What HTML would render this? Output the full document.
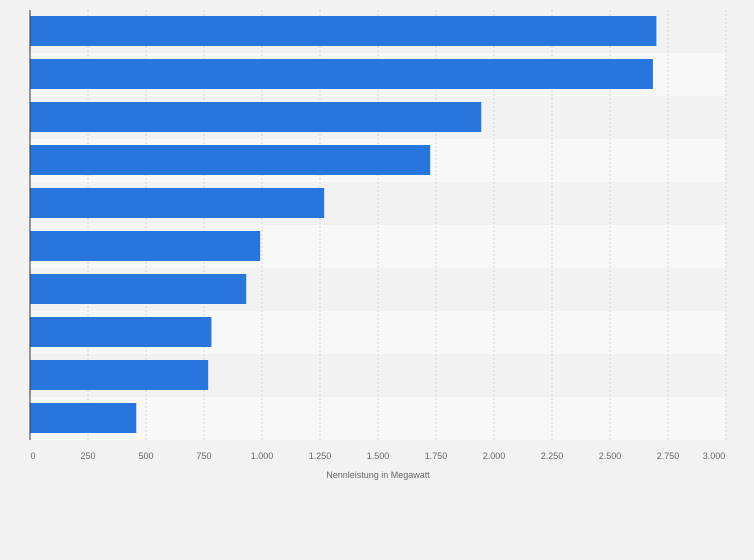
<!DOCTYPE html>
<html><head><meta charset="utf-8"><style>
body{margin:0;background:#f2f2f2;font-family:"Liberation Sans",sans-serif;}
svg{display:block}
</style></head><body>
<svg width="754" height="560" id="chart">
<rect x="0" y="0" width="754" height="560" fill="#f2f2f2"/>
<g id="rows"></g><g id="grid"></g><g id="bars"></g><g id="ticks"></g>
<line x1="30" y1="10" x2="30" y2="440" stroke="#333" stroke-width="1"/>
<text x="378" y="478" text-anchor="middle" font-size="9" fill="#666">Nennleistung in Megawatt</text>
</svg>
<script>
const categories=["P1","P2","P3","P4","P5","P6","P7","P8","P9","P10"];
const values=[2700,2685,1945,1725,1268,992,932,782,768,458];
const tickValues=[0,250,500,750,1000,1250,1500,1750,2000,2250,2500,2750,3000];
const tickLabels=["0","250","500","750","1.000","1.250","1.500","1.750","2.000","2.250","2.500","2.750","3.000"];
const ns="http://www.w3.org/2000/svg";
const x0=30,x1=726,plotTop=10,rowH=43,maxV=3000;
const xs=v=>x0+(v/maxV)*(x1-x0);
function mk(tag,attrs,parent){const e=document.createElementNS(ns,tag);for(const k in attrs)e.setAttribute(k,attrs[k]);document.getElementById(parent).appendChild(e);return e;}
categories.forEach((c,i)=>{
  const r=mk('rect',{x:x0,y:plotTop+i*rowH,width:x1-x0,height:rowH,fill:i%2?'#f8f8f8':'#f2f2f2'},'rows');
  
  
});
tickValues.forEach((v,i)=>{
  if(v>0){const l=mk('line',{x1:xs(v),x2:xs(v),y1:plotTop,y2:plotTop+rowH*categories.length,stroke:'#d4d4d4','stroke-dasharray':'2,2','stroke-width':1},'grid');
  
  }
  let tx=xs(v);if(i===0)tx+=3;if(i===tickValues.length-1)tx-=12;
  const t=mk('text',{x:tx,y:459,'text-anchor':'middle','font-size':9,fill:'#666'},'ticks');
  t.textContent=tickLabels[i];
  
  
});
values.forEach((v,i)=>{
  const b=mk('rect',{x:x0,y:plotTop+i*rowH+6,width:xs(v)-x0,height:30,fill:'#2876dd'},'bars');
  
  
});
</script>
</body></html>
